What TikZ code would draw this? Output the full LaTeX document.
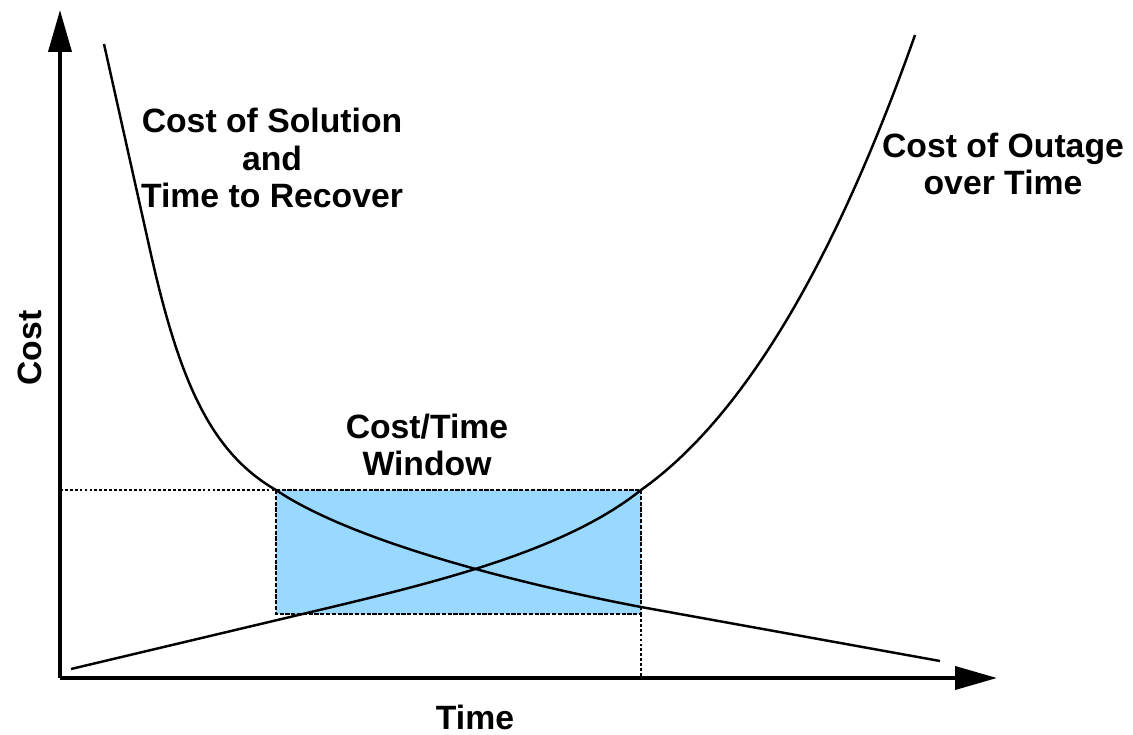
\documentclass[tikz,border=0pt]{standalone}
\usepackage{fontspec}
\setmainfont{Liberation Sans}
\usetikzlibrary{arrows.meta}
\definecolor{windowblue}{RGB}{153,217,255}
\tikzset{
  axis/.style={line width=2.2pt,-{Triangle[length=8.4mm,width=4.6mm]}},
  costcurve/.style={line width=1.4pt},
  guide/.style={line width=0.8pt,dash pattern=on 1.6pt off 1.2pt},
  window/.style={fill=windowblue,draw=black,line width=1pt,
                 dash pattern=on 2.4pt off 0.9pt},
  caption/.style={align=center,inner sep=0pt,
                  font=\fontsize{19.2}{21.5}\selectfont\bfseries},
}
\begin{document}
\begin{tikzpicture}[x=0.02cm,y=-0.02cm]
  \useasboundingbox (0,0) rectangle (1133,734);
  % axes
  \coordinate (origin) at (60,678);
  \coordinate (ytip)   at (60,10);
  \coordinate (xtip)   at (997,678);
  % window corners
  \coordinate (wtl) at (276,490);
  \coordinate (wbr) at (641,614);

  \draw[window] (wtl) rectangle (wbr);
  \draw[guide] (origin |- wtl) -- (wtl);
  \draw[guide] (wbr) -- (wbr |- origin);

  % cost of solution
  \draw[costcurve] (104,44) -- (150,250)
    .. controls (179,380) and (210,452) .. (wtl)
    .. controls (350,540) and (510,582) .. (641,607) -- (940,661);
  % cost of outage
  \draw[costcurve] (71,669) -- (290,617)
    .. controls (420,586) and (560,555) .. (wbr |- wtl)
    .. controls (740,420) and (832,270) .. (915,35);

  \draw[axis] (origin) -- (ytip);
  \draw[axis] (origin) -- (xtip);

  % labels
  \node[caption] (solution) at (272,158) {Cost of Solution\\and\\Time to Recover};
  \node[caption] (outage)   at (1003,164) {Cost of Outage\\over Time};
  \node[caption] (ctwindow) at (427,445) {Cost/Time\\Window};
  \node[caption] (timelab)  at (475,717) {Time};
  \node[caption,rotate=90] (costlab) at (30,348) {Cost};
\end{tikzpicture}
\end{document}
